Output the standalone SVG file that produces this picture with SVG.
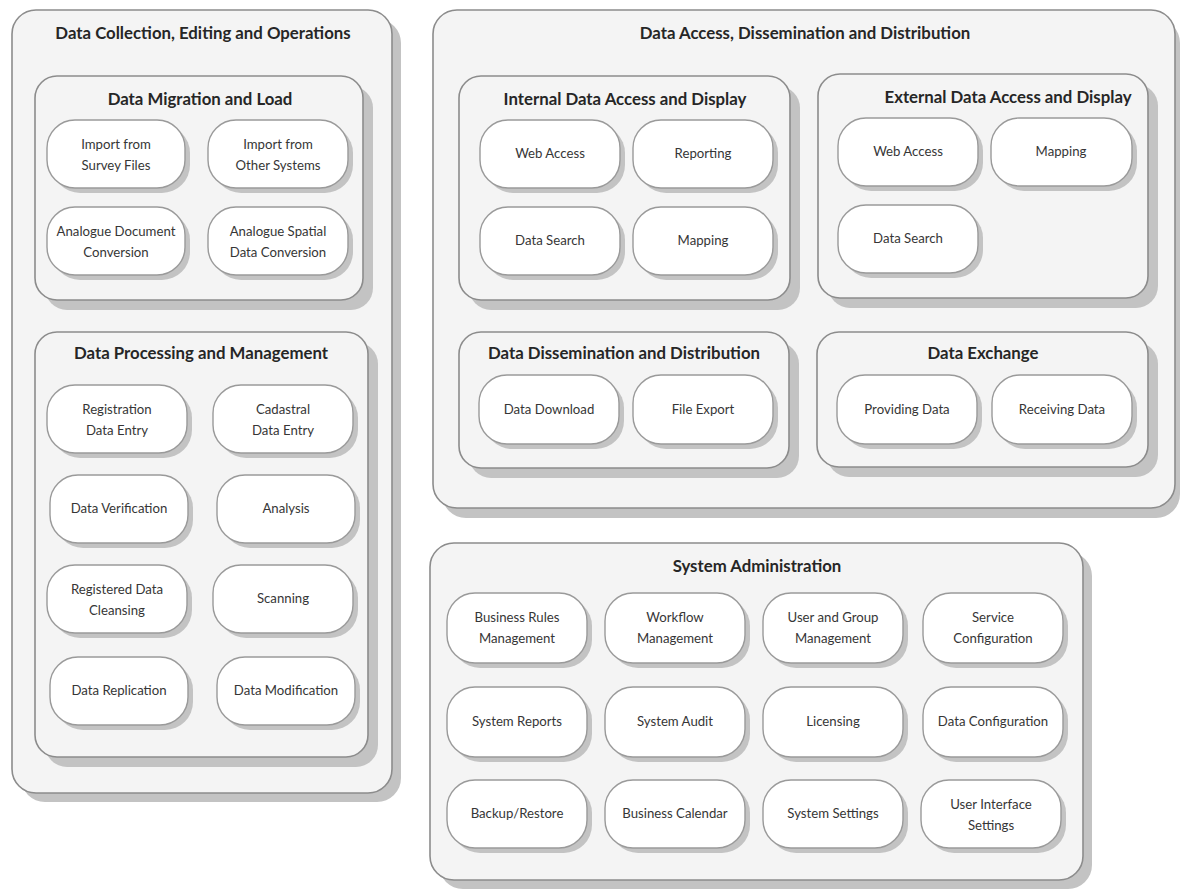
<svg xmlns="http://www.w3.org/2000/svg" width="1180" height="890" viewBox="0 0 1180 890">
<style>
.bg{fill:#ffffff}
.sh{fill:#c3c3c3}
.box{fill:#f4f4f4;stroke:#8c8c8c;stroke-width:1.6}
.pill{fill:#ffffff;stroke:#9a9a9a;stroke-width:1.4}
.t{font-family:Lato,"Open Sans","Liberation Sans",sans-serif;font-weight:bold;font-size:16.8px;fill:#262626;text-anchor:middle}
.p{font-family:Lato,"Open Sans","Liberation Sans",sans-serif;font-size:13.2px;fill:#363636;text-anchor:middle}
</style>
<rect class="bg" x="0" y="0" width="1180" height="890"/>

<!-- Outer: Data Collection -->
<g id="data-collection">
<rect class="sh" x="21" y="19" width="380" height="783" rx="24"/>
<rect class="box" x="12" y="10" width="380" height="783" rx="24"/>
<text class="t" x="203" y="39">Data Collection, Editing and Operations</text>
</g>

<g id="data-migration">
<rect class="sh" x="45" y="86" width="328" height="224" rx="22"/>
<rect class="box" x="35" y="76" width="328" height="224" rx="22"/>
<text class="t" x="200" y="105">Data Migration and Load</text>
</g>
<g id="import-survey"><rect class="sh" x="52" y="125" width="138" height="68" rx="28"/><rect class="pill" x="47" y="120" width="138" height="68" rx="28"/><text class="p" x="116" y="149">Import from</text><text class="p" x="116" y="170">Survey Files</text></g>
<g id="import-other"><rect class="sh" x="213" y="125" width="140" height="68" rx="28"/><rect class="pill" x="208" y="120" width="140" height="68" rx="28"/><text class="p" x="278" y="149">Import from</text><text class="p" x="278" y="170">Other Systems</text></g>
<g id="analogue-doc"><rect class="sh" x="52" y="212" width="138" height="68" rx="28"/><rect class="pill" x="47" y="207" width="138" height="68" rx="28"/><text class="p" x="116" y="236">Analogue Document</text><text class="p" x="116" y="257">Conversion</text></g>
<g id="analogue-spatial"><rect class="sh" x="213" y="212" width="140" height="68" rx="28"/><rect class="pill" x="208" y="207" width="140" height="68" rx="28"/><text class="p" x="278" y="236">Analogue Spatial</text><text class="p" x="278" y="257">Data Conversion</text></g>

<g id="data-processing">
<rect class="sh" x="45" y="342" width="333" height="425" rx="22"/>
<rect class="box" x="35" y="332" width="333" height="425" rx="22"/>
<text class="t" x="201" y="359">Data Processing and Management</text>
</g>
<g id="registration-entry"><rect class="sh" x="52" y="390" width="140" height="68" rx="28"/><rect class="pill" x="47" y="385" width="140" height="68" rx="28"/><text class="p" x="117" y="414">Registration</text><text class="p" x="117" y="435">Data Entry</text></g>
<g id="cadastral-entry"><rect class="sh" x="218" y="390" width="140" height="68" rx="28"/><rect class="pill" x="213" y="385" width="140" height="68" rx="28"/><text class="p" x="283" y="414">Cadastral</text><text class="p" x="283" y="435">Data Entry</text></g>
<g id="data-verification"><rect class="sh" x="55" y="480" width="138" height="68" rx="28"/><rect class="pill" x="50" y="475" width="138" height="68" rx="28"/><text class="p" x="119" y="513">Data Verification</text></g>
<g id="analysis"><rect class="sh" x="222" y="480" width="138" height="68" rx="28"/><rect class="pill" x="217" y="475" width="138" height="68" rx="28"/><text class="p" x="286" y="513">Analysis</text></g>
<g id="registered-cleansing"><rect class="sh" x="52" y="570" width="140" height="68" rx="28"/><rect class="pill" x="47" y="565" width="140" height="68" rx="28"/><text class="p" x="117" y="594">Registered Data</text><text class="p" x="117" y="615">Cleansing</text></g>
<g id="scanning"><rect class="sh" x="218" y="570" width="140" height="68" rx="28"/><rect class="pill" x="213" y="565" width="140" height="68" rx="28"/><text class="p" x="283" y="603">Scanning</text></g>
<g id="data-replication"><rect class="sh" x="55" y="662" width="138" height="68" rx="28"/><rect class="pill" x="50" y="657" width="138" height="68" rx="28"/><text class="p" x="119" y="695">Data Replication</text></g>
<g id="data-modification"><rect class="sh" x="222" y="662" width="138" height="68" rx="28"/><rect class="pill" x="217" y="657" width="138" height="68" rx="28"/><text class="p" x="286" y="695">Data Modification</text></g>

<!-- Outer: Data Access -->
<g id="data-access">
<rect class="sh" x="442" y="19" width="738" height="499" rx="24"/>
<rect class="box" x="433" y="10" width="742" height="498" rx="24"/>
<text class="t" x="805" y="39">Data Access, Dissemination and Distribution</text>
</g>

<g id="internal-access">
<rect class="sh" x="469" y="86" width="331" height="224" rx="22"/>
<rect class="box" x="459" y="76" width="331" height="224" rx="22"/>
<text class="t" x="625" y="105">Internal Data Access and Display</text>
</g>
<g id="int-web"><rect class="sh" x="485" y="125" width="140" height="68" rx="28"/><rect class="pill" x="480" y="120" width="140" height="68" rx="28"/><text class="p" x="550" y="158">Web Access</text></g>
<g id="int-reporting"><rect class="sh" x="638" y="125" width="140" height="68" rx="28"/><rect class="pill" x="633" y="120" width="140" height="68" rx="28"/><text class="p" x="703" y="158">Reporting</text></g>
<g id="int-search"><rect class="sh" x="485" y="212" width="140" height="68" rx="28"/><rect class="pill" x="480" y="207" width="140" height="68" rx="28"/><text class="p" x="550" y="245">Data Search</text></g>
<g id="int-mapping"><rect class="sh" x="638" y="212" width="140" height="68" rx="28"/><rect class="pill" x="633" y="207" width="140" height="68" rx="28"/><text class="p" x="703" y="245">Mapping</text></g>

<g id="external-access">
<rect class="sh" x="828" y="84" width="330" height="224" rx="22"/>
<rect class="box" x="818" y="74" width="330" height="224" rx="22"/>
<text class="t" x="1008" y="103">External Data Access and Display</text>
</g>
<g id="ext-web"><rect class="sh" x="843" y="123" width="140" height="68" rx="28"/><rect class="pill" x="838" y="118" width="140" height="68" rx="28"/><text class="p" x="908" y="156">Web Access</text></g>
<g id="ext-mapping"><rect class="sh" x="996" y="123" width="141" height="68" rx="28"/><rect class="pill" x="991" y="118" width="141" height="68" rx="28"/><text class="p" x="1061" y="156">Mapping</text></g>
<g id="ext-search"><rect class="sh" x="843" y="210" width="140" height="68" rx="28"/><rect class="pill" x="838" y="205" width="140" height="68" rx="28"/><text class="p" x="908" y="243">Data Search</text></g>

<g id="dissemination">
<rect class="sh" x="469" y="342" width="330" height="136" rx="22"/>
<rect class="box" x="459" y="332" width="330" height="136" rx="22"/>
<text class="t" x="624" y="359">Data Dissemination and Distribution</text>
</g>
<g id="data-download"><rect class="sh" x="484" y="380" width="140" height="69" rx="28"/><rect class="pill" x="479" y="375" width="140" height="69" rx="28"/><text class="p" x="549" y="414">Data Download</text></g>
<g id="file-export"><rect class="sh" x="638" y="380" width="140" height="69" rx="28"/><rect class="pill" x="633" y="375" width="140" height="69" rx="28"/><text class="p" x="703" y="414">File Export</text></g>

<g id="data-exchange">
<rect class="sh" x="827" y="342" width="331" height="135" rx="22"/>
<rect class="box" x="817" y="332" width="331" height="135" rx="22"/>
<text class="t" x="983" y="359">Data Exchange</text>
</g>
<g id="providing-data"><rect class="sh" x="842" y="380" width="140" height="69" rx="28"/><rect class="pill" x="837" y="375" width="140" height="69" rx="28"/><text class="p" x="907" y="414">Providing Data</text></g>
<g id="receiving-data"><rect class="sh" x="997" y="380" width="140" height="69" rx="28"/><rect class="pill" x="992" y="375" width="140" height="69" rx="28"/><text class="p" x="1062" y="414">Receiving Data</text></g>

<!-- Outer: System Administration -->
<g id="system-admin">
<rect class="sh" x="439" y="552" width="653" height="337" rx="24"/>
<rect class="box" x="430" y="543" width="653" height="337" rx="24"/>
<text class="t" x="757" y="572">System Administration</text>
</g>
<g id="business-rules"><rect class="sh" x="452" y="598" width="140" height="70" rx="28"/><rect class="pill" x="447" y="593" width="140" height="70" rx="28"/><text class="p" x="517" y="622">Business Rules</text><text class="p" x="517" y="643">Management</text></g>
<g id="workflow"><rect class="sh" x="610" y="598" width="140" height="70" rx="28"/><rect class="pill" x="605" y="593" width="140" height="70" rx="28"/><text class="p" x="675" y="622">Workflow</text><text class="p" x="675" y="643">Management</text></g>
<g id="user-group"><rect class="sh" x="768" y="598" width="140" height="70" rx="28"/><rect class="pill" x="763" y="593" width="140" height="70" rx="28"/><text class="p" x="833" y="622">User and Group</text><text class="p" x="833" y="643">Management</text></g>
<g id="service-config"><rect class="sh" x="928" y="598" width="140" height="70" rx="28"/><rect class="pill" x="923" y="593" width="140" height="70" rx="28"/><text class="p" x="993" y="622">Service</text><text class="p" x="993" y="643">Configuration</text></g>
<g id="system-reports"><rect class="sh" x="452" y="692" width="140" height="70" rx="28"/><rect class="pill" x="447" y="687" width="140" height="70" rx="28"/><text class="p" x="517" y="726">System Reports</text></g>
<g id="system-audit"><rect class="sh" x="610" y="692" width="140" height="70" rx="28"/><rect class="pill" x="605" y="687" width="140" height="70" rx="28"/><text class="p" x="675" y="726">System Audit</text></g>
<g id="licensing"><rect class="sh" x="768" y="692" width="140" height="70" rx="28"/><rect class="pill" x="763" y="687" width="140" height="70" rx="28"/><text class="p" x="833" y="726">Licensing</text></g>
<g id="data-config"><rect class="sh" x="928" y="692" width="140" height="70" rx="28"/><rect class="pill" x="923" y="687" width="140" height="70" rx="28"/><text class="p" x="993" y="726">Data Configuration</text></g>
<g id="backup-restore"><rect class="sh" x="452" y="785" width="140" height="68" rx="28"/><rect class="pill" x="447" y="780" width="140" height="68" rx="28"/><text class="p" x="517" y="818">Backup/Restore</text></g>
<g id="business-calendar"><rect class="sh" x="610" y="785" width="140" height="68" rx="28"/><rect class="pill" x="605" y="780" width="140" height="68" rx="28"/><text class="p" x="675" y="818">Business Calendar</text></g>
<g id="system-settings"><rect class="sh" x="768" y="785" width="140" height="68" rx="28"/><rect class="pill" x="763" y="780" width="140" height="68" rx="28"/><text class="p" x="833" y="818">System Settings</text></g>
<g id="ui-settings"><rect class="sh" x="926" y="785" width="140" height="68" rx="28"/><rect class="pill" x="921" y="780" width="140" height="68" rx="28"/><text class="p" x="991" y="809">User Interface</text><text class="p" x="991" y="830">Settings</text></g>

<g id="connectors"/>
</svg>
